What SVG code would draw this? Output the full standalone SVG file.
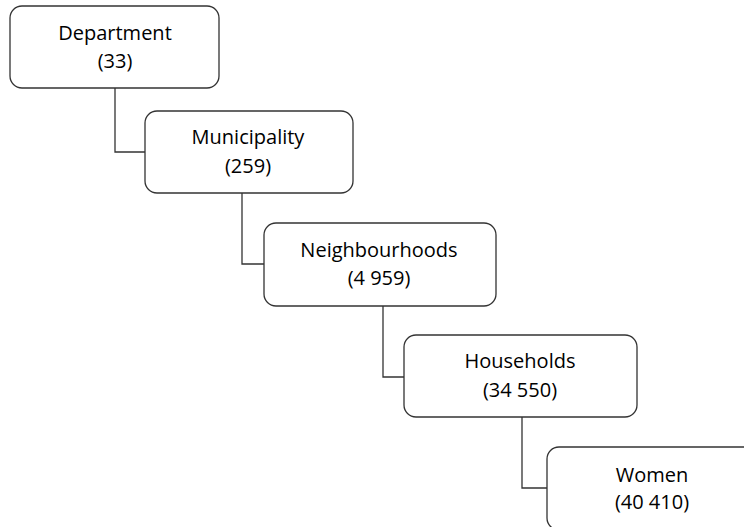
<svg xmlns="http://www.w3.org/2000/svg" width="744" height="527" viewBox="0 0 744 527">
<style>
.box{fill:#fff;stroke:#333;stroke-width:1.3}
.lbl{font-family:"Open Sans","Liberation Sans",sans-serif;font-size:20px;fill:#000;text-anchor:middle}
.con{fill:none;stroke:#333;stroke-width:1.3}
</style>
<rect width="744" height="527" fill="#fff"/>
<g id="connectors">
<path class="con" d="M115 88 V152 H145"/>
<path class="con" d="M242 193 V264 H264"/>
<path class="con" d="M383 306 V377 H404"/>
<path class="con" d="M522 417 V488 H547"/>
</g>
<g id="department">
<rect class="box" x="10" y="6" width="209" height="82" rx="12"/>
<text class="lbl" x="115" y="40">Department</text>
<text class="lbl" x="115" y="68">(33)</text>
</g>
<g id="municipality">
<rect class="box" x="145" y="111" width="208" height="82" rx="12"/>
<text class="lbl" x="248" y="144">Municipality</text>
<text class="lbl" x="248" y="173">(259)</text>
</g>
<g id="neighbourhoods">
<rect class="box" x="264" y="223" width="232" height="83" rx="12"/>
<text class="lbl" x="379" y="257">Neighbourhoods</text>
<text class="lbl" x="379" y="285">(4 959)</text>
</g>
<g id="households">
<rect class="box" x="404" y="335" width="233" height="82" rx="12"/>
<text class="lbl" x="520" y="368">Households</text>
<text class="lbl" x="520" y="397">(34 550)</text>
</g>
<g id="women">
<rect class="box" x="547" y="447" width="210" height="83" rx="12"/>
<text class="lbl" x="652" y="482">Women</text>
<text class="lbl" x="652" y="509">(40 410)</text>
</g>
</svg>
